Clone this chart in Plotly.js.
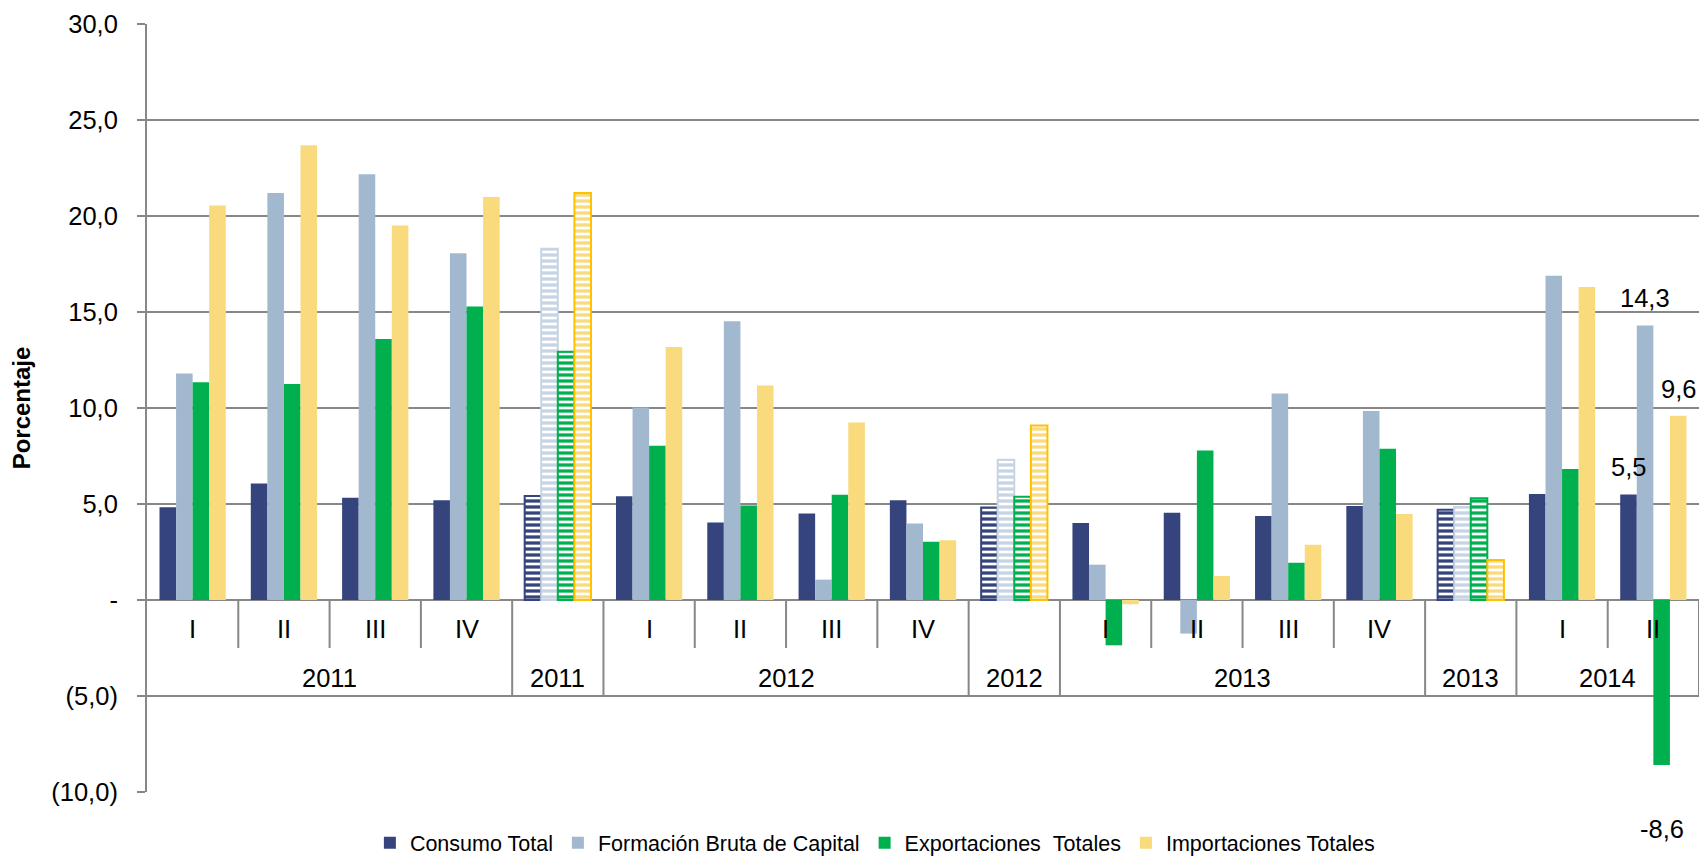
<!DOCTYPE html>
<html>
<head>
<meta charset="utf-8">
<script src="https://cdn.plot.ly/plotly-3.0.1.min.js"></script>
<style>
  html, body { margin: 0; padding: 0; background: #ffffff; }
  #chart { width: 1700px; height: 862px; }
</style>
</head>
<body>
<div id="chart"></div>
<script>
// ---- data ----
const quarters = ['I','II','III','IV','','I','II','III','IV','','I','II','III','IV','','I','II'];
const years = ['2011','2011','2011','2011','2011','2012','2012','2012','2012','2012','2013','2013','2013','2013','2013','2014','2014'];

const seriesNames = ['Consumo Total', 'Formación Bruta de Capital', 'Exportaciones\u00A0\u00A0Totales', 'Importaciones Totales'];
const consumo      = [4.83, 6.07, 5.33, 5.19, 5.42, 5.41, 4.03, 4.50, 5.20, 4.82, 4.01, 4.55, 4.38, 4.90, 4.70, 5.52, 5.5];
const formacion    = [11.80, 21.20, 22.17, 18.06, 18.30, 10.03, 14.52, 1.06, 3.98, 7.31, 1.84, -1.75, 10.75, 9.84, 4.84, 16.89, 14.3];
const exportaciones= [11.34, 11.25, 13.59, 15.28, 12.93, 8.03, 4.92, 5.48, 3.03, 5.38, -2.36, 7.78, 1.94, 7.88, 5.30, 6.82, -8.6];
const importaciones= [20.55, 23.68, 19.50, 20.99, 21.20, 13.18, 11.17, 9.25, 3.11, 9.09, -0.22, 1.25, 2.88, 4.48, 2.08, 16.30, 9.6];

const yTickVals  = [-10, -5, 0, 5, 10, 15, 20, 25, 30];
const yTickTexts = ['(10,0)', '(5,0)', '-', '5,0', '10,0', '15,0', '20,0', '25,0', '30,0'];

// ---- styles ----
const colors      = ['#35447D', '#A2B8CF', '#00B04F', '#F9DA7C'];
const stripeCols  = ['#35447D', '#C6D4E3', '#00B04F', '#F9DA7C'];
const borderCols  = ['#35447D', '#C6D4E3', '#00B04F', '#FFC000'];
const gridCol = '#878787';
const FONT = 'Liberation Sans, Arial, sans-serif';
const BARGAP = 0.274;

const xs = quarters.map((q, i) => i);
const isAnnual = quarters.map(q => q === '');
const seriesValues = [consumo, formacion, exportaciones, importaciones];

const traces = seriesValues.map((vals, k) => ({
  type: 'bar',
  name: seriesNames[k],
  x: xs,
  y: vals,
  marker: {
    color: colors[k],
    line: { color: borderCols[k], width: isAnnual.map(a => a ? 2 : 0) },
    pattern: {
      shape: isAnnual.map(a => a ? '-' : ''),
      fgcolor: stripeCols[k],
      bgcolor: '#ffffff',
      size: 6,
      solidity: 0.55,
      fillmode: 'replace'
    }
  },
  hoverinfo: 'skip'
}));

// ---- category table (shapes + annotations) ----
const groupKey = xs.map(i => years[i] + (isAnnual[i] ? 'A' : 'Q'));
const shapes = [];
for (let i = 1; i < xs.length; i++) {
  const long = groupKey[i] !== groupKey[i - 1];
  shapes.push({ type: 'line', xref: 'x', yref: 'y', x0: i - 0.5, x1: i - 0.5, y0: 0, y1: long ? -5 : -2.5,
                line: { color: gridCol, width: 2 } });
}
shapes.push({ type: 'line', xref: 'x', yref: 'y', x0: xs.length - 0.5, x1: xs.length - 0.5, y0: 0, y1: -5,
              line: { color: gridCol, width: 2 } });

const annotations = [];
xs.forEach(i => {
  if (quarters[i] !== '') {
    annotations.push({ x: i, y: -1.5, xref: 'x', yref: 'y', text: quarters[i], showarrow: false,
                       font: { family: FONT, size: 25.5, color: '#000' }, yanchor: 'middle' });
  }
});
// year labels centred over runs
let start = 0;
for (let i = 1; i <= xs.length; i++) {
  if (i === xs.length || groupKey[i] !== groupKey[start]) {
    annotations.push({ x: (start + i - 1) / 2, y: -4.05, xref: 'x', yref: 'y', text: years[start], showarrow: false,
                       font: { family: FONT, size: 25.5, color: '#000' }, yanchor: 'middle' });
    start = i;
  }
}
// value labels on last period
const last = xs.length - 1;
const w = (1 - BARGAP) / 4;
seriesValues.forEach((vals, k) => {
  const v = vals[last];
  annotations.push({
    x: last + (k - 1.5) * w, y: v, xref: 'x', yref: 'y',
    text: v.toFixed(1).replace('.', ','), showarrow: false,
    font: { family: FONT, size: 25.5, color: '#000' },
    yanchor: v >= 0 ? 'bottom' : 'top', yshift: v >= 0 ? 11 : -48
  });
});

const layout = {
  width: 1700, height: 862,
  margin: { l: 147, r: 1, t: 24, b: 70, autoexpand: false },
  paper_bgcolor: '#ffffff', plot_bgcolor: '#ffffff',
  font: { family: FONT, color: '#000' },
  barmode: 'group', bargap: BARGAP, bargroupgap: 0,
  showlegend: true,
  legend: {
    orientation: 'h', x: 0.469, xanchor: 'center', y: -0.066, yanchor: 'middle',
    font: { family: FONT, size: 21.5, color: '#000' }, traceorder: 'normal'
  },
  xaxis: {
    range: [-0.5, xs.length - 0.5], showticklabels: false, showgrid: false, zeroline: false,
    showline: false, ticks: '', fixedrange: true
  },
  yaxis: {
    range: [-10, 30], tickvals: yTickVals, ticktext: yTickTexts,
    showline: true, linecolor: gridCol, linewidth: 2,
    showgrid: true, gridcolor: gridCol, gridwidth: 2,
    zeroline: true, zerolinecolor: gridCol, zerolinewidth: 2,
    ticks: 'outside', ticklen: 8, tickwidth: 2, tickcolor: gridCol,
    ticklabelstandoff: 14,
    tickfont: { family: FONT, size: 25.5, color: '#000' },
    title: { text: 'Porcentaje', font: { family: FONT, size: 24, color: '#000', weight: 'bold' }, standoff: 14 }
  },
  shapes: shapes,
  annotations: annotations
};

Plotly.newPlot('chart', traces, layout, { displayModeBar: false, staticPlot: true });
</script>
</body>
</html>
